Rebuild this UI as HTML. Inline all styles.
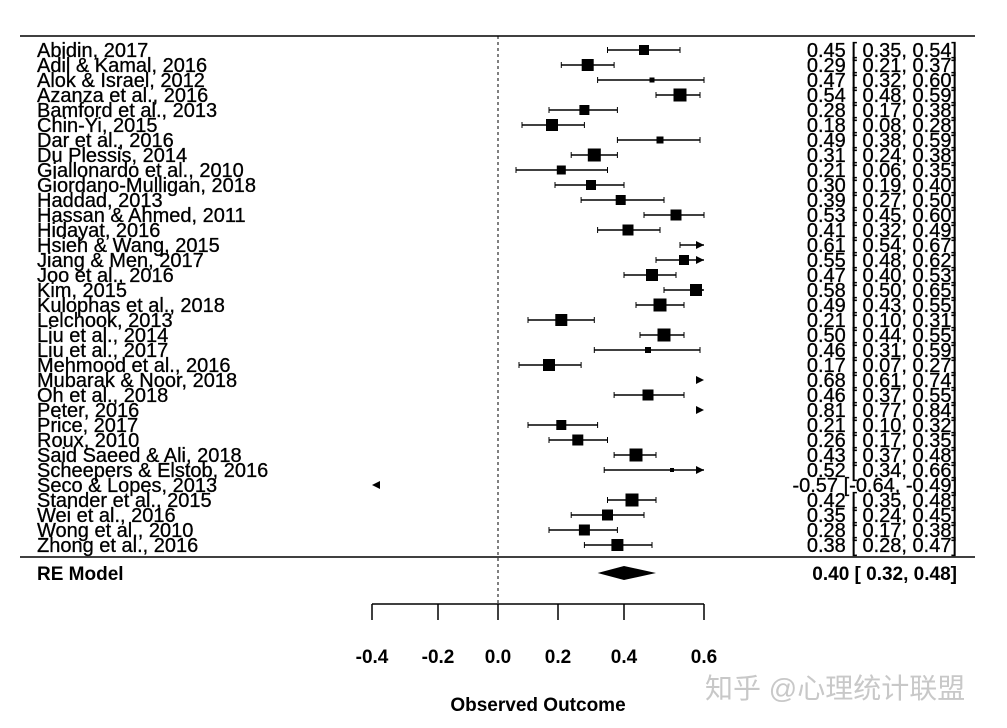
<!DOCTYPE html>
<html><head><meta charset="utf-8"><style>
html,body{margin:0;padding:0;background:#fff;}
svg{display:block;font-family:"Liberation Sans",Arial,sans-serif;}
</style></head><body>
<svg id="plot" width="1007" height="728" viewBox="0 0 1007 728" xmlns="http://www.w3.org/2000/svg"></svg>
<script>
const studies=["Abidin, 2017","Adil & Kamal, 2016","Alok & Israel, 2012","Azanza et al., 2016","Bamford et al., 2013","Chin-Yi, 2015","Dar  et al., 2016","Du Plessis, 2014","Giallonardo  et al., 2010","Giordano-Mulligan, 2018","Haddad, 2013","Hassan & Ahmed, 2011","Hidayat, 2016","Hsieh & Wang, 2015","Jiang & Men, 2017","Joo et al., 2016","Kim, 2015","Kulophas et al., 2018","Lelchook, 2013","Liu et al., 2014","Liu et al., 2017","Mehmood et al., 2016","Mubarak & Noor, 2018","Oh et al., 2018","Peter, 2016","Price, 2017","Roux, 2010","Said Saeed & Ali, 2018","Scheepers & Elstob, 2016","Seco & Lopes, 2013","Stander et al., 2015","Wei et al., 2016","Wong et al., 2010","Zhong et al., 2016"];
const est=[0.45,0.29,0.47,0.54,0.28,0.18,0.49,0.31,0.21,0.30,0.39,0.53,0.41,0.61,0.55,0.47,0.58,0.49,0.21,0.50,0.46,0.17,0.68,0.46,0.81,0.21,0.26,0.43,0.52,-0.57,0.42,0.35,0.28,0.38];
const lo=[0.35,0.21,0.32,0.48,0.17,0.08,0.38,0.24,0.06,0.19,0.27,0.45,0.32,0.54,0.48,0.40,0.50,0.43,0.10,0.44,0.31,0.07,0.61,0.37,0.77,0.10,0.17,0.37,0.34,-0.64,0.35,0.24,0.17,0.28];
const hi=[0.54,0.37,0.60,0.59,0.38,0.28,0.59,0.38,0.35,0.40,0.50,0.60,0.49,0.67,0.62,0.53,0.65,0.55,0.31,0.55,0.59,0.27,0.74,0.55,0.84,0.32,0.35,0.48,0.66,-0.49,0.48,0.45,0.38,0.47];
const sizes=[10,12,5,13,10,12,7,13,9,10,10,11,11,0,10,12,12,13,12,13,6,12,0,11,0,10,11,13,4,0,13,11,11,12];
const reEst=0.40, reLo=0.32, reHi=0.48;
const tickVals=[-0.4,-0.2,0.0,0.2,0.4,0.6];
const tickLabels=["-0.4","-0.2","0.0","0.2","0.4","0.6"];
const tickPx=[372,438,498,558,624,704];
function xs(v){
  if(v<=tickVals[0])return tickPx[0]+(v-tickVals[0])*(tickPx[1]-tickPx[0])/0.2;
  for(let i=0;i<tickVals.length-1;i++){if(v<=tickVals[i+1]){return tickPx[i]+(v-tickVals[i])/(tickVals[i+1]-tickVals[i])*(tickPx[i+1]-tickPx[i]);}}
  const n=tickVals.length-1;return tickPx[n]+(v-tickVals[n])*(tickPx[n]-tickPx[n-1])/0.2;
}
const y0=50, dy=(545-50)/(studies.length-1);
function ys(i){return y0+i*dy;}
const S=document.getElementById('plot');const NS="http://www.w3.org/2000/svg";
function mk(t,a,txt){const e=document.createElementNS(NS,t);for(const k in a)e.setAttribute(k,a[k]);if(txt!==undefined)e.textContent=txt;S.appendChild(e);return e;}
const xmin=tickVals[0], xmax=tickVals[tickVals.length-1];
let e;
e=mk('line',{x1:20,y1:36,x2:975,y2:36,stroke:'#000','stroke-width':1.5});


e=mk('line',{x1:20,y1:557,x2:975,y2:557,stroke:'#000','stroke-width':1.5});


e=mk('line',{x1:xs(0),y1:36,x2:xs(0),y2:604,stroke:'#000','stroke-width':1,'stroke-dasharray':'3,3'});


studies.forEach((s,i)=>{
  const y=ys(i);
  e=mk('text',{x:37,y:y+7,'font-size':20,fill:'#000',stroke:'#000','stroke-width':0.3},s);
  
  
  const f=v=>(v<0?'-':' ')+Math.abs(v).toFixed(2);
  e=mk('text',{x:957,y:y+7,'font-size':20,'text-anchor':'end',fill:'#000',stroke:'#000','stroke-width':0.3,'xml:space':'preserve'},f(est[i])+' ['+f(lo[i])+', '+f(hi[i])+']');
  
  
  const a=Math.max(lo[i],xmin), b=Math.min(hi[i],xmax);
  if(a<b){
    e=mk('line',{x1:xs(a),y1:y,x2:xs(b),y2:y,stroke:'#000','stroke-width':1.5});
    
    
  }
  if(lo[i]>=xmin && lo[i]<=xmax){e=mk('line',{x1:xs(lo[i]),y1:y-3,x2:xs(lo[i]),y2:y+3,stroke:'#000'});}
  if(hi[i]<=xmax && hi[i]>=xmin){e=mk('line',{x1:xs(hi[i]),y1:y-3,x2:xs(hi[i]),y2:y+3,stroke:'#000'});}
  if(hi[i]>xmax){const x=xs(xmax);e=mk('polygon',{points:`${x},${y} ${x-8},${y-4} ${x-8},${y+4}`,fill:'#000'});}
  if(lo[i]<xmin){const x=xs(xmin);e=mk('polygon',{points:`${x},${y} ${x+8},${y-4} ${x+8},${y+4}`,fill:'#000'});}
  if(sizes[i]>0 && est[i]>=xmin && est[i]<=xmax){const h=sizes[i];e=mk('rect',{x:xs(est[i])-h/2,y:y-h/2,width:h,height:h,fill:'#000'});}
});
const ry=573;
e=mk('text',{x:37,y:ry+7,'font-size':19,'font-weight':'bold'},'RE Model');


e=mk('polygon',{points:`${xs(reLo)},${ry} ${xs(reEst)},${ry-7} ${xs(reHi)},${ry} ${xs(reEst)},${ry+7}`,fill:'#000'});


e=mk('text',{x:957,y:ry+7,'font-size':19,'font-weight':'bold','text-anchor':'end','xml:space':'preserve'},' '+reEst.toFixed(2)+' [ '+reLo.toFixed(2)+',  '+reHi.toFixed(2)+']');


e=mk('line',{x1:xs(xmin),y1:604,x2:xs(xmax),y2:604,stroke:'#000','stroke-width':1.5});


tickVals.forEach((v,i)=>{
  e=mk('line',{x1:xs(v),y1:604,x2:xs(v),y2:620,stroke:'#000','stroke-width':1.5});
  
  
  e=mk('text',{x:xs(v),y:663,'font-size':19,'font-weight':'bold','text-anchor':'middle'},tickLabels[i]);
  
  
});
e=mk('text',{x:538,y:711,'font-size':19,'font-weight':'bold','text-anchor':'middle'},'Observed Outcome');


e=mk('text',{x:705,y:698,'font-size':28,fill:'#c8c8c8','font-family':'"Liberation Sans","Noto Sans CJK SC",sans-serif'},'知乎 @心理统计联盟');


</script>
</body></html>
